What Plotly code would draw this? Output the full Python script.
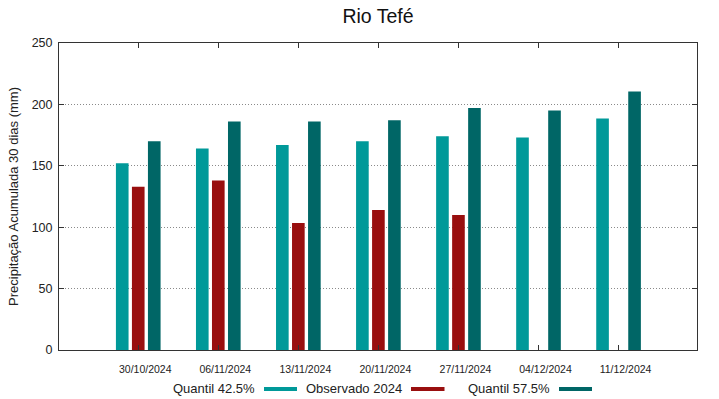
import plotly.graph_objects as go

categories = ["30/10/2024", "06/11/2024", "13/11/2024", "20/11/2024",
              "27/11/2024", "04/12/2024", "11/12/2024"]
q425 = [152, 164, 167, 170, 174, 173, 188.5]
obs2024 = [133, 138, 103.5, 114, 110, None, None]
q575 = [170, 186, 186, 187, 197, 195, 210.5]

series_names = ["Quantil 42.5%", "Observado 2024", "Quantil 57.5%"]
colors = ["#009999", "#990f0f", "#006666"]

W, H = 719, 399
L, R, T, B = 59, 22, 43, 49
pw, ph = W - L - R, H - T - B

fig = go.Figure()
bw = 0.158
offsets = [-0.2 - bw / 2, -bw / 2, 0.2 - bw / 2]
for name, vals, col, off in zip(series_names, [q425, obs2024, q575], colors, offsets):
    fig.add_trace(go.Bar(x=categories, y=vals, name=name, marker_color=col,
                         marker_line_width=0, width=bw, offset=off,
                         showlegend=False))

FF = "Liberation Sans"
fig.update_layout(
    width=W, height=H,
    margin=dict(l=L, r=R, t=T, b=B, pad=0),
    barmode="overlay",
    plot_bgcolor="white", paper_bgcolor="white",
    font=dict(family=FF, color="#222222"),
    title=dict(text="Rio Tefé", x=(L + pw / 2) / W, xanchor="center",
               y=1 - 16 / H, yanchor="middle",
               font=dict(family=FF, size=19.5, color="#111111")),
)
fig.update_xaxes(
    type="category", range=[-0.99, 6.98],
    showline=True, linecolor="#333333", linewidth=1, mirror="ticks",
    ticks="inside", ticklen=5, tickcolor="#333333",
    showgrid=False, tickfont=dict(family=FF, size=10.5, color="#222222"),
    ticklabelstandoff=9, ticklabelshift=7,
)
fig.update_yaxes(
    range=[0, 250], dtick=50,
    showline=True, linecolor="#333333", linewidth=1, mirror="ticks",
    ticks="inside", ticklen=5, tickcolor="#333333",
    showgrid=True, gridcolor="#8a8a8a", griddash="1px,2px", gridwidth=1,
    zeroline=False, tickfont=dict(family=FF, size=12.5, color="#222222"),
    ticklabelstandoff=3,
    title=dict(text="Precipitação Acumulada 30 dias (mm)",
               font=dict(family=FF, size=13, color="#222222"), standoff=10),
)

# gnuplot-style legend: text followed by a colour sample
def px_to_paper_x(px):
    return (px - L) / pw

def px_to_paper_y(py):
    return (H - B - py) / ph

legend_items = [(257, 264, 297), (404, 411, 444.5), (552, 559, 592)]
for (text_right, s0, s1), name, col in zip(legend_items, series_names, colors):
    fig.add_annotation(text=name, x=px_to_paper_x(text_right), y=px_to_paper_y(388),
                       xref="paper", yref="paper", xanchor="right", yanchor="middle",
                       showarrow=False, font=dict(family=FF, size=13, color="#222222"))
    fig.add_shape(type="rect", xref="paper", yref="paper",
                  x0=px_to_paper_x(s0), x1=px_to_paper_x(s1),
                  y0=px_to_paper_y(387), y1=px_to_paper_y(391),
                  fillcolor=col, line_width=0)

fig.write_html("out.html", config={"displayModeBar": False},
               post_script="document.body.style.margin='0';document.body.style.padding='0';")
